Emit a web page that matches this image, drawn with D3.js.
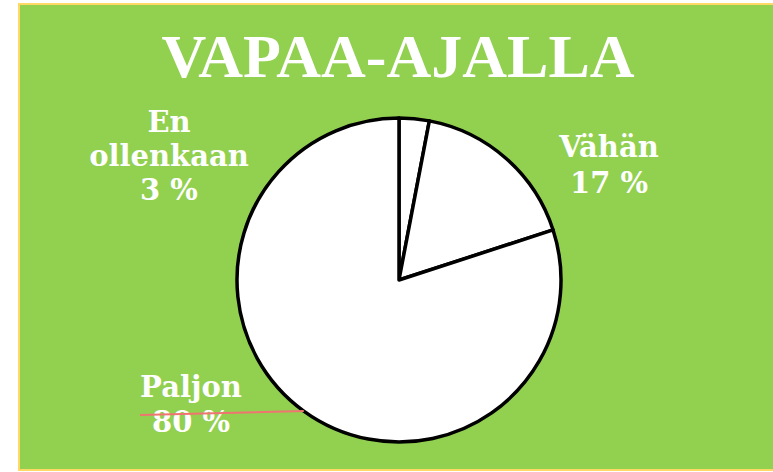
<!DOCTYPE html>
<html>
<head>
<meta charset="utf-8">
<script src="https://cdn.jsdelivr.net/npm/d3@7"></script>
<style>
  html, body { margin: 0; padding: 0; background: #ffffff; }
  svg { display: block; }
</style>
</head>
<body>
<div id="chart"></div>
<script>
// slices, clockwise from 12 o'clock
const categories = ["En ollenkaan", "Vähän", "Paljon"];
const values = [3, 17, 80];
const labelLines = [["En", "ollenkaan", "3 %"], ["Vähän", "17 %"], ["Paljon", "80 %"]];
const title = "VAPAA-AJALLA";

const width = 773, height = 472;
const cx = 399, cy = 280, radius = 162;

const svg = d3.select("#chart").append("svg")
    .attr("width", width)
    .attr("height", height);

// green panel with thin yellow border
svg.append("rect")
    .attr("x", 19).attr("y", 4)
    .attr("width", width + 10).attr("height", 466)
    .attr("fill", "#92d050")
    .attr("stroke", "#ffd966")
    .attr("stroke-width", 2);

svg.append("text")
    .attr("x", 398).attr("y", 77)
    .attr("text-anchor", "middle")
    .attr("font-family", "'Liberation Serif', serif")
    .attr("font-weight", "bold")
    .attr("font-size", 62)
    .attr("fill", "#ffffff")
    .text(title);

const pie = d3.pie().sort(null).value(d => d)(values);
const arc = d3.arc().innerRadius(0).outerRadius(radius);

const g = svg.append("g").attr("transform", `translate(${cx},${cy})`);
g.selectAll("path.slice")
    .data(pie)
    .join("path")
    .attr("class", "slice")
    .attr("d", arc)
    .attr("fill", "#ffffff")
    .attr("stroke", "#000000")
    .attr("stroke-width", 3.5)
    .attr("stroke-linejoin", "round");

// label anchor points (centre x, first baseline y)
const labelPos = [[169, 132], [609, 157], [191, 397]];
const lineGap = [34, 36, 35];

labelLines.forEach((lines, i) => {
    const t = svg.append("text")
        .attr("text-anchor", "middle")
        .attr("font-family", "'DejaVu Serif', serif")
        .attr("font-weight", "bold")
        .attr("font-size", 29)
        .attr("fill", "#ffffff");
    lines.forEach((s, j) => {
        t.append("tspan")
            .attr("x", labelPos[i][0])
            .attr("y", labelPos[i][1] + j * lineGap[i])
            .text(s);
    });
});

// leader line for the "Paljon" label, to the middle of its slice edge (drawn over the text)
const leadAngle = (pie[2].startAngle + pie[2].endAngle) / 2;
svg.append("line")
    .attr("x1", 140).attr("y1", 415)
    .attr("x2", cx + radius * Math.sin(leadAngle))
    .attr("y2", cy - radius * Math.cos(leadAngle))
    .attr("stroke", "#f07470")
    .attr("stroke-width", 2);
</script>
</body>
</html>
